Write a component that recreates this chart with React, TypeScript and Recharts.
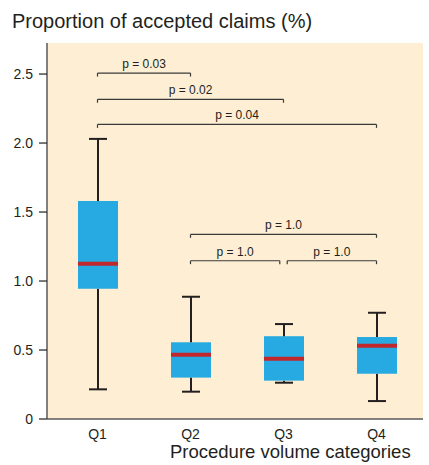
import {
  ComposedChart, Bar, ReferenceLine, XAxis, YAxis, CartesianGrid,
} from 'recharts'

const categories = ['Q1', 'Q2', 'Q3', 'Q4']
const whiskerLow = [0.215, 0.198, 0.263, 0.13]
const boxLow = [0.944, 0.3, 0.278, 0.328]
const medians = [1.125, 0.466, 0.437, 0.531]
const boxHigh = [1.58, 0.556, 0.6, 0.594]
const whiskerHigh = [2.03, 0.886, 0.688, 0.77]

// significance brackets (positions on a 1..4 category index)
const bracketFrom = [1, 1, 1, 2, 2, 3.04]
const bracketTo = [2, 3, 4, 4, 2.96, 4]
const bracketLevel = [2.507, 2.317, 2.135, 1.338, 1.147, 1.147]
const bracketLabels = ['p = 0.03', 'p = 0.02', 'p = 0.04', 'p = 1.0', 'p = 1.0', 'p = 1.0']

const yTicks = [0, 0.5, 1, 1.5, 2, 2.5]

const BOX = '#27a9e1'
const MEDIAN = '#c1272d'
const INK = '#231f20'
const FONT = '"Liberation Sans", Arial, Helvetica, sans-serif'

const data = categories.map((c, i) => ({
  cat: c,
  idx: i + 1,
  base: whiskerLow[i],
  lowWhisker: boxLow[i] - whiskerLow[i],
  lowBox: medians[i] - boxLow[i],
  highBox: boxHigh[i] - medians[i],
  highWhisker: whiskerHigh[i] - boxHigh[i],
}))

const LowWhisker = (p: any) => {
  const cx = p.x + p.width / 2
  const yb = p.y + p.height
  return (
    <g>
      <line x1={cx} x2={cx} y1={p.y} y2={yb} stroke={INK} strokeWidth={2} />
      <line x1={cx - 9} x2={cx + 9} y1={yb} y2={yb} stroke={INK} strokeWidth={2} />
    </g>
  )
}

const HighWhisker = (p: any) => {
  const cx = p.x + p.width / 2
  return (
    <g>
      <line x1={cx} x2={cx} y1={p.y} y2={p.y + p.height} stroke={INK} strokeWidth={2} />
      <line x1={cx - 9} x2={cx + 9} y1={p.y} y2={p.y} stroke={INK} strokeWidth={2} />
    </g>
  )
}

const LowBox = (p: any) => <rect x={p.x} y={p.y} width={p.width} height={p.height} fill={BOX} />

const HighBox = (p: any) => (
  <g>
    <rect x={p.x} y={p.y} width={p.width} height={p.height} fill={BOX} />
    <line x1={p.x} x2={p.x + p.width} y1={p.y + p.height} y2={p.y + p.height} stroke={MEDIAN} strokeWidth={4} />
  </g>
)

const TICK = 0.025

export default function App() {
  return (
    <div style={{ position: 'absolute', left: 0, top: 0, width: 429, height: 465, overflow: 'hidden', background: '#fff', fontFamily: FONT }}>
      <div style={{ position: 'absolute', left: 12, top: 11, fontSize: 20, lineHeight: '20px', color: INK, whiteSpace: 'nowrap' }}>
        Proportion of accepted claims (%)
      </div>
      <ComposedChart
        width={429}
        height={465}
        data={data}
        margin={{ top: 43, right: 6, left: 0, bottom: 26 }}
      >
        <CartesianGrid fill="#feefd4" horizontal={false} vertical={false} xAxisId="cat" />
        <XAxis
          xAxisId="cat"
          dataKey="cat"
          padding={{ left: 4, right: 0 }}
          tickLine={false}
          axisLine={{ stroke: '#58595b', strokeWidth: 1.5 }}
          tick={{ fontSize: 14, fill: INK, fontFamily: FONT }}
          tickMargin={4}
          height={20}
        />
        <XAxis
          xAxisId="num"
          dataKey="idx"
          type="number"
          domain={[0.5, 4.5]}
          padding={{ left: 4, right: 0 }}
          allowDataOverflow
          hide
        />
        <XAxis
          xAxisId="top"
          dataKey="idx"
          orientation="top"
          type="number"
          domain={[0.5, 4.5]}
          tick={false}
          tickLine={false}
          axisLine={{ stroke: '#a7a9ac', strokeWidth: 2 }}
          height={0}
        />
        <YAxis
          domain={[0, 2.725]}
          ticks={yTicks}
          allowDataOverflow
          tickFormatter={(v: number) => (v === 0 ? '0' : v.toFixed(1))}
          tick={{ fontSize: 14, fill: INK, fontFamily: FONT }}
          tickSize={8}
          tickLine={{ stroke: INK, strokeWidth: 1.2 }}
          tickMargin={6}
          axisLine={{ stroke: '#58595b', strokeWidth: 1.5 }}
          width={47}
        />
        <YAxis
          yAxisId="r"
          orientation="right"
          domain={[0, 1]}
          tick={false}
          tickLine={false}
          axisLine={{ stroke: '#a7a9ac', strokeWidth: 2 }}
          width={0}
        />

        <Bar xAxisId="cat" dataKey="base" stackId="box" barSize={40} fill="transparent" isAnimationActive={false} />
        <Bar xAxisId="cat" dataKey="lowWhisker" stackId="box" barSize={40} shape={LowWhisker} isAnimationActive={false} />
        <Bar xAxisId="cat" dataKey="lowBox" stackId="box" barSize={40} shape={LowBox} isAnimationActive={false} />
        <Bar xAxisId="cat" dataKey="highBox" stackId="box" barSize={40} shape={HighBox} isAnimationActive={false} />
        <Bar xAxisId="cat" dataKey="highWhisker" stackId="box" barSize={40} shape={HighWhisker} isAnimationActive={false} />

        {bracketLevel.map((lv, i) => (
          <ReferenceLine
            key={`h${i}`}
            xAxisId="num"
            segment={[{ x: bracketFrom[i], y: lv }, { x: bracketTo[i], y: lv }]}
            stroke="#3a3a3a"
            strokeWidth={1.2}
            label={{ value: bracketLabels[i], position: 'top', offset: 5, fontSize: 12, fill: INK, fontFamily: FONT }}
          />
        ))}
        {bracketLevel.map((lv, i) => (
          <ReferenceLine
            key={`l${i}`}
            xAxisId="num"
            segment={[{ x: bracketFrom[i], y: lv }, { x: bracketFrom[i], y: lv - TICK }]}
            stroke="#3a3a3a"
            strokeWidth={1.2}
          />
        ))}
        {bracketLevel.map((lv, i) => (
          <ReferenceLine
            key={`r${i}`}
            xAxisId="num"
            segment={[{ x: bracketTo[i], y: lv }, { x: bracketTo[i], y: lv - TICK }]}
            stroke="#3a3a3a"
            strokeWidth={1.2}
          />
        ))}
      </ComposedChart>
      <div style={{ position: 'absolute', left: 170, top: 442, fontSize: 18.5, lineHeight: '20px', color: INK, whiteSpace: 'nowrap' }}>
        Procedure volume categories
      </div>
    </div>
  )
}
